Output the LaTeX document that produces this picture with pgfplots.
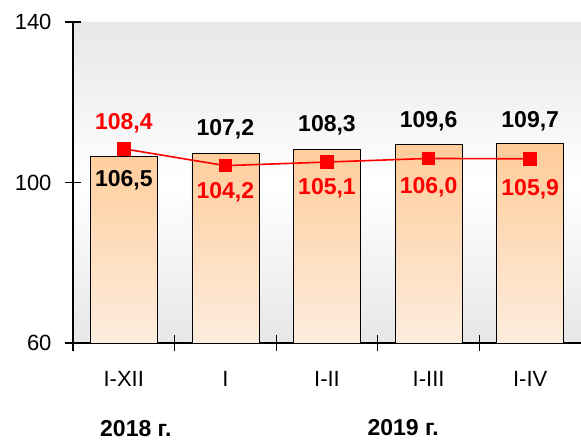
\documentclass[border=0pt]{standalone}
\usepackage{pgfplots}
\pgfplotsset{compat=1.18}
\usepackage{fontspec}
\setmainfont{Liberation Sans}
\definecolor{peach}{RGB}{255,204,153}
\definecolor{peachlight}{RGB}{253,237,222}
\definecolor{bggray}{RGB}{231,231,231}
\begin{document}
\begin{tikzpicture}
\path[use as bounding box] (-73bp,-98bp) rectangle (508bp,343bp);
\begin{axis}[
  at={(0,0)}, anchor=south west,
  width=508bp, height=321bp, scale only axis,
  xmin=-0.5, xmax=4.5, ymin=0, ymax=80,
  y filter/.expression={y-60},
  clip=false,
  axis x line=bottom, axis y line=left,
  axis line style={-, line width=1.2bp},
  axis background/.style={top color=bggray, bottom color=bggray, middle color=white},
  tick align=center,
  major tick length=16bp, minor tick length=16bp,
  every tick/.style={black, line width=1.2bp},
  ytick={0,40,80}, yticklabels={60,100,140},
  xtick={0,1,2,3,4}, xticklabels={I-XII,I,I-II,I-III,I-IV},
  major x tick style={draw=none},
  minor xtick={-0.5,0.5,1.5,2.5,3.5},
  tick label style={font=\fontsize{22bp}{26bp}\selectfont},
  xticklabel style={yshift=-17bp},
  yticklabel style={xshift=-10bp},
]
\addplot[ybar, bar width=67bp, draw=black, line width=0.8bp,
  top color=peach, bottom color=peachlight]
  coordinates {(0,106.5) (1,107.2) (2,108.3) (3,109.6) (4,109.7)};
\addplot[red, line width=1.6bp, mark=square*, mark size=6bp,
  mark options={solid, fill=red}]
  coordinates {(0,108.4) (1,104.2) (2,105.1) (3,106.0) (4,105.9)};
\begin{scope}[every node/.style={font=\fontsize{23bp}{27bp}\selectfont\bfseries}]
\node[red] at (axis cs:0,54.8) {108,4};
\node at (axis cs:1,53.3) {107,2};
\node at (axis cs:2,54.3) {108,3};
\node at (axis cs:3,55.3) {109,6};
\node at (axis cs:4,55.3) {109,7};
\node at (axis cs:0,40.6) {106,5};
\node[red] at (axis cs:1,37.6) {104,2};
\node[red] at (axis cs:2,38.6) {105,1};
\node[red] at (axis cs:3,38.9) {106,0};
\node[red] at (axis cs:4,38.4) {105,9};
\end{scope}
\node[font=\fontsize{23bp}{27bp}\selectfont\bfseries] at (axis cs:0,0) [xshift=12bp, yshift=-86bp] {2018 г.};
\node[font=\fontsize{23bp}{27bp}\selectfont\bfseries] at (axis cs:2.75,0) [yshift=-85bp] {2019 г.};
\end{axis}
\end{tikzpicture}
\end{document}
